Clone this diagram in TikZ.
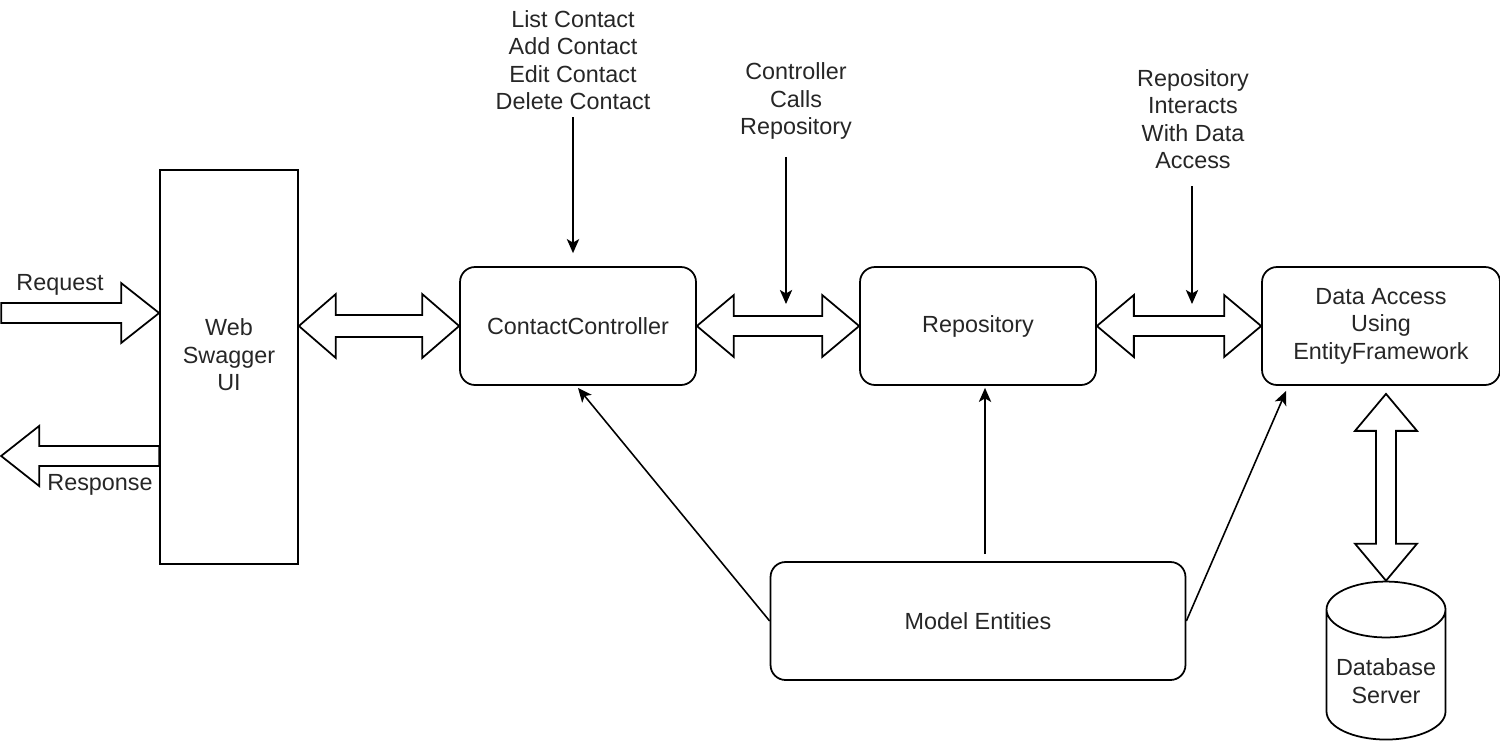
\documentclass[tikz,border=0pt]{standalone}
\usepackage{fontspec}
\setmainfont{Liberation Sans}
\usetikzlibrary{positioning,arrows.meta,calc,shapes.geometric}
\tikzset{box node/.style={draw,rounded corners=0.3cm,minimum width=4.72cm,minimum height=2.36cm,align=center,inner sep=0pt},
	text node/.style={align=center,inner sep=1pt,text=black!85},
	block arrow/.style={draw,line width=1pt,fill=white,line join=miter},
	flow arrow/.style={draw,line width=0.9pt,-{Stealth[length=8pt,width=7pt,inset=2pt]}},}

\begin{document}
\begin{tikzpicture}[x=0.02cm,y=-0.02cm,line width=1pt,font=\fontsize{13.3}{15.6}\selectfont]
			\useasboundingbox (0,0) rectangle (1500,741);

			\node[draw,minimum width=2.76cm,minimum height=7.88cm] (swagger) at (229,367) {};
			\node[text node] (swaggertxt) at ([yshift=0.24cm]swagger.center) {Web\\Swagger\\UI};
			\node[box node,text=black!85] (cc) at (578,326) {ContactController};
			\node[box node,text=black!85] (repo) at (978,326) {Repository};
			\node[box node,text=black!85,minimum width=4.76cm] (da) at (1381,326) {Data Access\\Using\\EntityFramework};
			\node[box node,text=black!85,minimum width=8.3cm] (model) at (978,621) {Model Entities};
			\node[draw,cylinder,shape border rotate=90,aspect=0.5,minimum width=2.38cm,minimum height=3.16cm,align=center,text=black!85] (db) at (1386,681) {Database\\Server};

			\node[text node] (ops) at (573,60) {List Contact\\Add Contact\\Edit Contact\\Delete Contact};
			\node[text node] (calls) at (796,101) {Controller\\Calls\\Repository};
			\node[text node] (inter) at (1193,119) {Repository\\Interacts\\With Data\\Access};
			\node[text node] (req) at (60,285) {Request};
			\node[text node] (resp) at (100,485) {Response};

			\coordinate (callsend) at (786,304);
			\coordinate (interend) at (1192,304);
			\coordinate (datip) at ($(da.south -| db.north)+(0,8)$);

			% request / response
			\draw[block arrow] ([yshift=1.08cm]swagger.west) -- ++(-38,-30) -- ++(0,20) -- ++(-120,0) -- ++(0,20) -- ++(120,0) -- ++(0,20) -- cycle;
			\draw[block arrow] ([yshift=-1.58cm]swagger.west) -- ++(-120,0) -- ++(0,-20) -- ++(-38,30) -- ++(38,30) -- ++(0,-20) -- ++(120,0) -- cycle;

			% double block arrows
			\draw[block arrow] (swagger.east |- cc.west) -- ++(37,-32) |- ($(cc.west)+(-37,-11)$) -- ++(0,-21) -- (cc.west) -- ++(-37,32) |- ($(swagger.east |- cc.west)+(37,11)$) -- ++(0,21) -- cycle;
			\draw[block arrow] (cc.east) -- ++(37,-31) |- ($(repo.west)+(-37,-10)$) -- ++(0,-21) -- (repo.west) -- ++(-37,31) |- ($(cc.east)+(37,10)$) -- ++(0,21) -- cycle;
			\draw[block arrow] (repo.east) -- ++(37,-31) |- ($(da.west)+(-37,-10)$) -- ++(0,-21) -- (da.west) -- ++(-37,31) |- ($(repo.east)+(37,10)$) -- ++(0,21) -- cycle;
			\draw[block arrow] (datip) -- ++(31,37) -- ++(-21,0) |- ($(db.north)+(10,-37)$) -- ++(21,0) -- (db.north) -- ++(-31,-37) -- ++(21,0) |- ($(datip)+(-10,37)$) -- ++(-21,0) -- cycle;

			\draw[flow arrow,shorten <=0.1cm,shorten >=0.26cm] (ops.south) -- (ops.south |- cc.north);
			\draw[flow arrow,shorten <=0.3cm] (calls.south -| callsend) -- (callsend);
			\draw[flow arrow,shorten <=0.3cm] (inter.south -| interend) -- (interend);
			\draw[flow arrow] ([xshift=0.14cm,yshift=0.14cm]model.north) -- ([xshift=0.14cm,yshift=-0.04cm]repo.south);
			\draw[flow arrow] (model.west) -- ([yshift=-0.04cm]cc.south);
			\draw[flow arrow] (model.east) -- ([xshift=0.5cm,yshift=-0.1cm]da.south west);
		\end{tikzpicture}
\end{document}
